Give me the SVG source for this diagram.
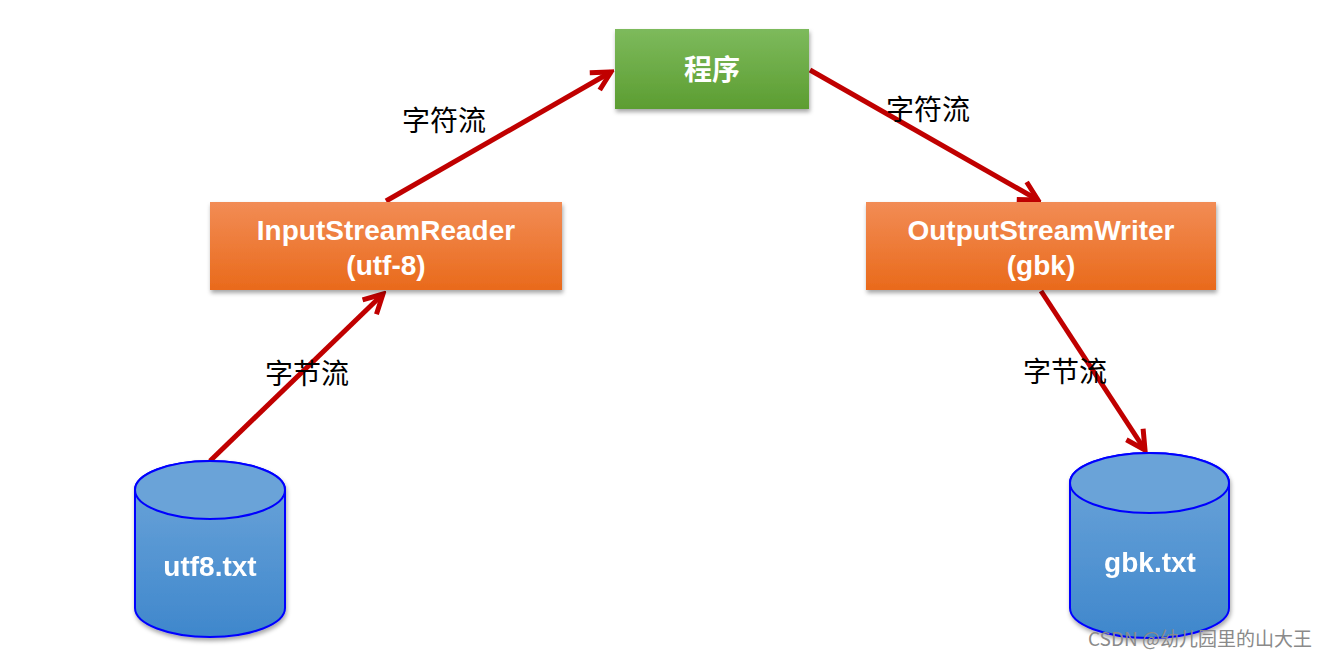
<svg xmlns="http://www.w3.org/2000/svg" width="1331" height="659" viewBox="0 0 1331 659">
<style>
.box-text{font-family:"Liberation Sans","Noto Sans CJK SC",sans-serif;font-weight:bold;font-size:28px;fill:#fff;text-anchor:middle}
.cyl-text{font-family:"Liberation Sans",sans-serif;font-weight:bold;font-size:28px;fill:#fff;text-anchor:middle}
.lbl{font-family:"Noto Sans CJK SC",sans-serif;font-size:28px;fill:#000;text-anchor:middle}
.conn{stroke:#c00000;stroke-width:5;fill:none;marker-end:url(#arr)}
.cyl{stroke:#0000ff;stroke-width:2}
</style>
<defs>
<linearGradient id="gGreen" x1="0" y1="0" x2="0" y2="1"><stop offset="0" stop-color="#7dba5c"/><stop offset="1" stop-color="#5c9d31"/></linearGradient>
<linearGradient id="gOrange" x1="0" y1="0" x2="0" y2="1"><stop offset="0" stop-color="#f28c55"/><stop offset="1" stop-color="#e96a1b"/></linearGradient>
<linearGradient id="gBlue" x1="0" y1="0" x2="0" y2="1"><stop offset="0" stop-color="#6ea6da"/><stop offset="1" stop-color="#3f87cc"/></linearGradient>
<filter id="sh" x="-10%" y="-20%" width="120%" height="150%"><feDropShadow dx="1" dy="3" stdDeviation="2" flood-color="#000" flood-opacity="0.35"/></filter>
<marker id="arr" viewBox="0 0 10 10" refX="8.5" refY="5" markerWidth="5" markerHeight="5" orient="auto" markerUnits="strokeWidth"><path d="M1,1 L8.5,5 L1,9" fill="none" stroke="#c00000" stroke-width="2"/></marker>
</defs>
<g id="connectors">
<line class="conn" x1="210" y1="461" x2="383" y2="294"/>
<line class="conn" x1="386" y1="201" x2="611" y2="72"/>
<line class="conn" x1="810" y1="70" x2="1038" y2="200"/>
<line class="conn" x1="1041" y1="291" x2="1145" y2="450"/>
</g>
<g id="labels">
<text class="lbl" x="444" y="131">字符流</text>
<text class="lbl" x="928" y="120">字符流</text>
<text class="lbl" x="307" y="384">字节流</text>
<text class="lbl" x="1065" y="382">字节流</text>
</g>
<g id="node-program">
<rect x="615" y="29" width="194" height="80" fill="url(#gGreen)" filter="url(#sh)"/>
<text class="box-text" x="712" y="80">程序</text>
</g>
<g id="node-reader">
<rect x="210" y="202" width="352" height="88" fill="url(#gOrange)" filter="url(#sh)"/>
<text class="box-text" x="386" y="240">InputStreamReader</text>
<text class="box-text" x="386" y="275">(utf-8)</text>
</g>
<g id="node-writer">
<rect x="866" y="202" width="350" height="88" fill="url(#gOrange)" filter="url(#sh)"/>
<text class="box-text" x="1041" y="240">OutputStreamWriter</text>
<text class="box-text" x="1041" y="275">(gbk)</text>
</g>
<g id="node-utf8" filter="url(#sh)">
<path class="cyl" d="M135,490 L135,608 A75,29 0 0 0 285,608 L285,490 A75,29 0 0 0 135,490 Z" fill="url(#gBlue)"/>
<ellipse class="cyl" cx="210" cy="490" rx="75" ry="29" fill="#6ba3d8"/>
<text class="cyl-text" x="210" y="576">utf8.txt</text>
</g>
<g id="node-gbk" filter="url(#sh)">
<path class="cyl" d="M1070,483 L1070,608 A79.5,30 0 0 0 1229,608 L1229,483 A79.5,30 0 0 0 1070,483 Z" fill="url(#gBlue)"/>
<ellipse class="cyl" cx="1149.5" cy="483" rx="79.5" ry="30" fill="#6ba3d8"/>
<text class="cyl-text" x="1150" y="572">gbk.txt</text>
</g>
<text x="1200" y="646" font-family="Noto Sans CJK SC,sans-serif" font-size="19" fill="#8a8a8a" text-anchor="middle">CSDN @幼儿园里的山大王</text>
</svg>
